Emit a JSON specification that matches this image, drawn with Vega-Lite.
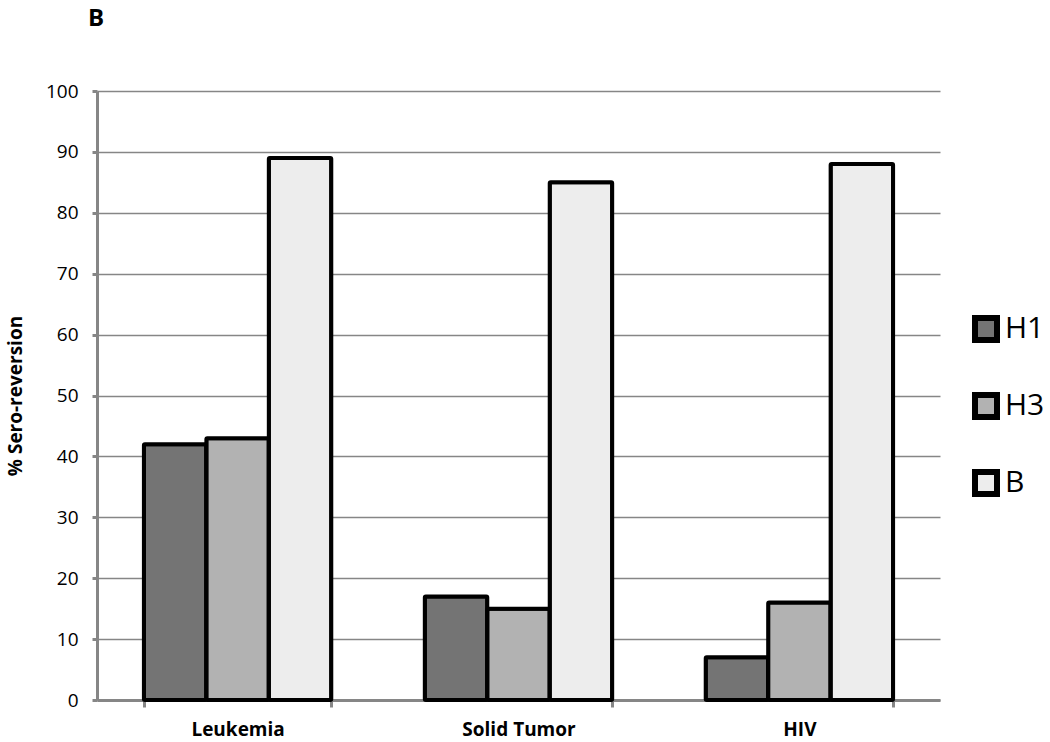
{
  "$schema": "https://vega.github.io/schema/vega-lite/v6.json",
  "width": 843,
  "height": 609,
  "autosize": {"type": "none"},
  "padding": {"left": 97, "top": 91, "right": 110, "bottom": 42},
  "background": "white",
  "title": {"text": "B", "anchor": "start", "frame": "group", "offset": 51, "fontSize": 24, "font": "Open Sans", "fontWeight": "bold", "color": "black", "dx": -9},
  "data": {"values": [
    {"group": "Leukemia", "series": "H1", "value": 42},
    {"group": "Leukemia", "series": "H3", "value": 43},
    {"group": "Leukemia", "series": "B", "value": 89},
    {"group": "Solid Tumor", "series": "H1", "value": 17},
    {"group": "Solid Tumor", "series": "H3", "value": 15},
    {"group": "Solid Tumor", "series": "B", "value": 85},
    {"group": "HIV", "series": "H1", "value": 7},
    {"group": "HIV", "series": "H3", "value": 16},
    {"group": "HIV", "series": "B", "value": 88}
  ]},
  "mark": {"type": "bar", "stroke": "black", "strokeWidth": 4, "strokeJoin": "round", "cornerRadius": 1},
  "encoding": {
    "x": {"field": "group", "type": "nominal", "sort": ["Leukemia", "Solid Tumor", "HIV"],
      "scale": {"paddingInner": 0.333, "paddingOuter": 0.167},
      "axis": {"title": null, "labelAngle": 0, "labelFont": "Open Sans", "labelFontWeight": "bold", "labelFontSize": 19, "labelColor": "black", "labelPadding": 13,
        "domainColor": "#868686", "domainWidth": 3, "tickColor": "#868686", "tickWidth": 3, "tickSize": 7, "tickBand": "extent"}},
    "xOffset": {"field": "series", "type": "nominal", "sort": ["H1", "H3", "B"], "scale": {"paddingInner": 0, "paddingOuter": 0}},
    "y": {"field": "value", "type": "quantitative", "scale": {"domain": [0, 100], "nice": false},
      "axis": {"title": "% Sero-reversion", "titleFont": "Open Sans", "titleFontWeight": "bold", "titleFontSize": 19, "titleColor": "black", "titlePadding": 20,
        "values": [0,10,20,30,40,50,60,70,80,90,100],
        "labelFont": "Open Sans", "labelFontSize": 19, "labelColor": "black", "labelPadding": 14,
        "domainColor": "#868686", "domainWidth": 3, "tickColor": "#868686", "tickWidth": 3, "tickSize": 5,
        "grid": true, "gridColor": "#868686", "gridWidth": 1.5}},
    "fill": {"field": "series", "type": "nominal", "sort": ["H1", "H3", "B"],
      "scale": {"domain": ["H1", "H3", "B"], "range": ["#747474", "#b2b2b2", "#ededed"]},
      "legend": {"title": null, "orient": "none", "legendX": 874, "legendY": 223,
        "symbolType": "square", "symbolSize": 484, "symbolStrokeColor": "black", "symbolStrokeWidth": 6,
        "labelFont": "Open Sans", "labelFontSize": 30, "labelColor": "black", "labelOffset": 4, "rowPadding": 31}}
  },
  "config": {"view": {"stroke": null}}
}
